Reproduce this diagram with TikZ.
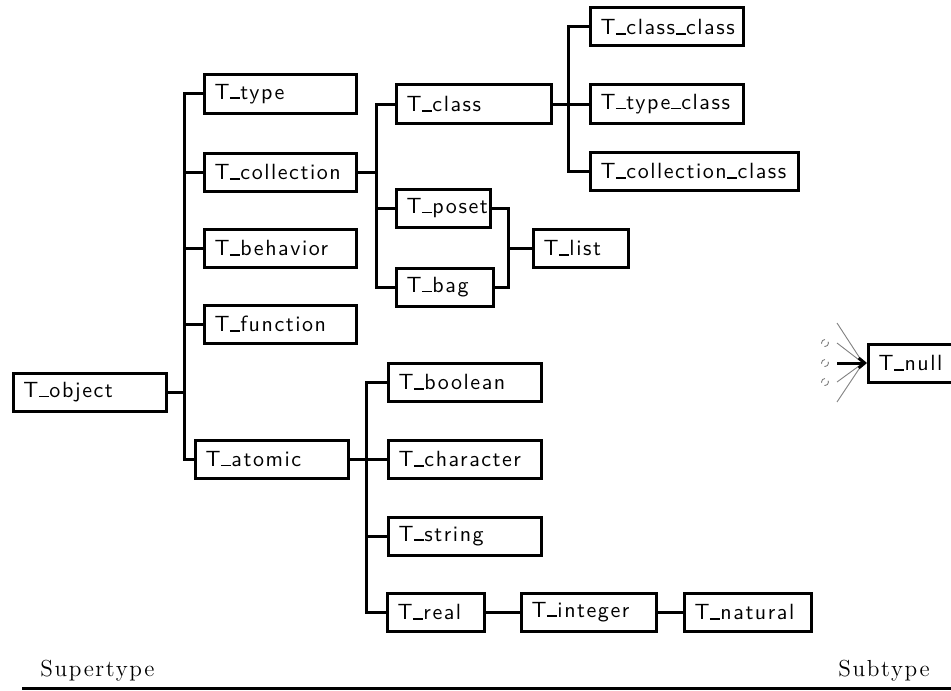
\documentclass[tikz,border=0pt]{standalone}
\usepackage{fontspec}
\usetikzlibrary{arrows.meta}
\newfontfamily\boxfont{Latin Modern Sans}[LetterSpace=7]
\newfontfamily\labfont{Latin Modern Roman}[LetterSpace=7]
% short underscore bar sitting on the baseline
\newcommand\us{\kern0.02em\rule{0.46em}{0.085em}\kern0.02em}
\tikzset{
  tbox/.style={draw, line width=1.5pt, anchor=west, inner xsep=5pt, inner ysep=0pt,
    minimum height=19pt, align=left, font=\boxfont\fontsize{11}{13}\selectfont},
  conn/.style={line width=1.5pt},
  fan/.style={gray, line width=0.45pt},
  axislabel/.style={inner sep=0pt, font=\labfont\fontsize{11.6}{14}\selectfont},
}
% box with left edge x, centre y, width w (all in px)
\newcommand\tnode[5]{\node[tbox, text width=#4*0.5pt-10pt] (#1) at (#2,#3) {#5};}
\begin{document}
\begin{tikzpicture}[x=0.5pt, y=-0.5pt]
\useasboundingbox (0,0) rectangle (951,690);
\begin{scope}
\clip (0,0) rectangle (951,690);
% root and first level
\tnode{obj}{12}{392}{153}{T\us object}
\tnode{type}{203}{94}{152}{T\us type}
\tnode{coll}{203}{172}{152}{T\us collection}
\tnode{beh}{203}{248}{152}{T\us behavior}
\tnode{fun}{203}{324}{152}{T\us function}
\tnode{atom}{194}{459}{153}{T\us atomic}
% collection subtree
\tnode{cls}{395}{104}{155}{T\us class}
\tnode{poset}{395}{208}{94}{T\us poset}
\tnode{bag}{395}{287}{97}{T\us bag}
\tnode{list}{532}{248}{95}{T\us list}
\tnode{clscls}{589}{27}{153}{T\us class\us class}
\tnode{typecls}{589}{104}{153}{T\us type\us class}
\tnode{collcls}{589}{171}{208}{T\us collection\us class}
% atomic subtree
\tnode{bool}{387}{382}{153}{T\us boolean}
\tnode{char}{387}{459}{153}{T\us character}
\tnode{str}{387}{536}{153}{T\us string}
\tnode{real}{386}{612}{97}{T\us real}
\tnode{int}{520}{612}{135}{T\us integer}
\tnode{nat}{683}{612}{127}{T\us natural}
% bottom type
\tnode{null}{867}{363}{110}{T\us null}
\end{scope}

% bus points
\coordinate (b0) at (184,392);
\coordinate (c0) at (376,172);
\coordinate (k0) at (568,104);
\coordinate (p0) at (508,248);
\coordinate (a0) at (366,459);

% first level
\draw[conn] (obj.east) -- (b0);
\draw[conn] (type.west) -| (b0) |- (atom.west);
\draw[conn] (coll.west) -- (coll.west -| b0);
\draw[conn] (beh.west) -- (beh.west -| b0);
\draw[conn] (fun.west) -- (fun.west -| b0);
% collections
\draw[conn] (coll.east) -- (c0);
\draw[conn] (cls.west) -| (c0) |- (bag.west);
\draw[conn] (poset.west) -- (poset.west -| c0);
\draw[conn] (poset.east) -| (p0) |- (bag.east);
\draw[conn] (p0) -- (list.west);
% classes
\draw[conn] (cls.east) -- (typecls.west);
\draw[conn] (clscls.west) -| (k0) |- (collcls.west);
% atomic
\draw[conn] (atom.east) -- (char.west);
\draw[conn] (bool.west) -| (a0) |- (real.west);
\draw[conn] (str.west) -- (str.west -| a0);
\draw[conn] (real.east) -- (int.west);
\draw[conn] (int.east) -- (nat.west);

% everything flows into T_null
\coordinate (nt) at ([xshift=-2pt]null.west);
\foreach \yy in {323,343,382,402} \draw[fan] (837,\yy) -- (nt);
\foreach \yy in {343,363,382} \draw[fan, densely dashed] (825,\yy) circle[radius=3.5];
\draw[conn, -{Straight Barb[length=3pt,width=5pt]}] (837,363) -- (null.west);

% axis
\node[axislabel, anchor=base west] (sup) at (40,676) {Supertype};
\node[axislabel, anchor=base east] (sub) at (930,676) {Subtype};
\coordinate (axl) at (22,688);
\coordinate (axr) at (951,688);
\draw[line width=1.5pt] (axl) -- (axr);
\end{tikzpicture}
\end{document}
